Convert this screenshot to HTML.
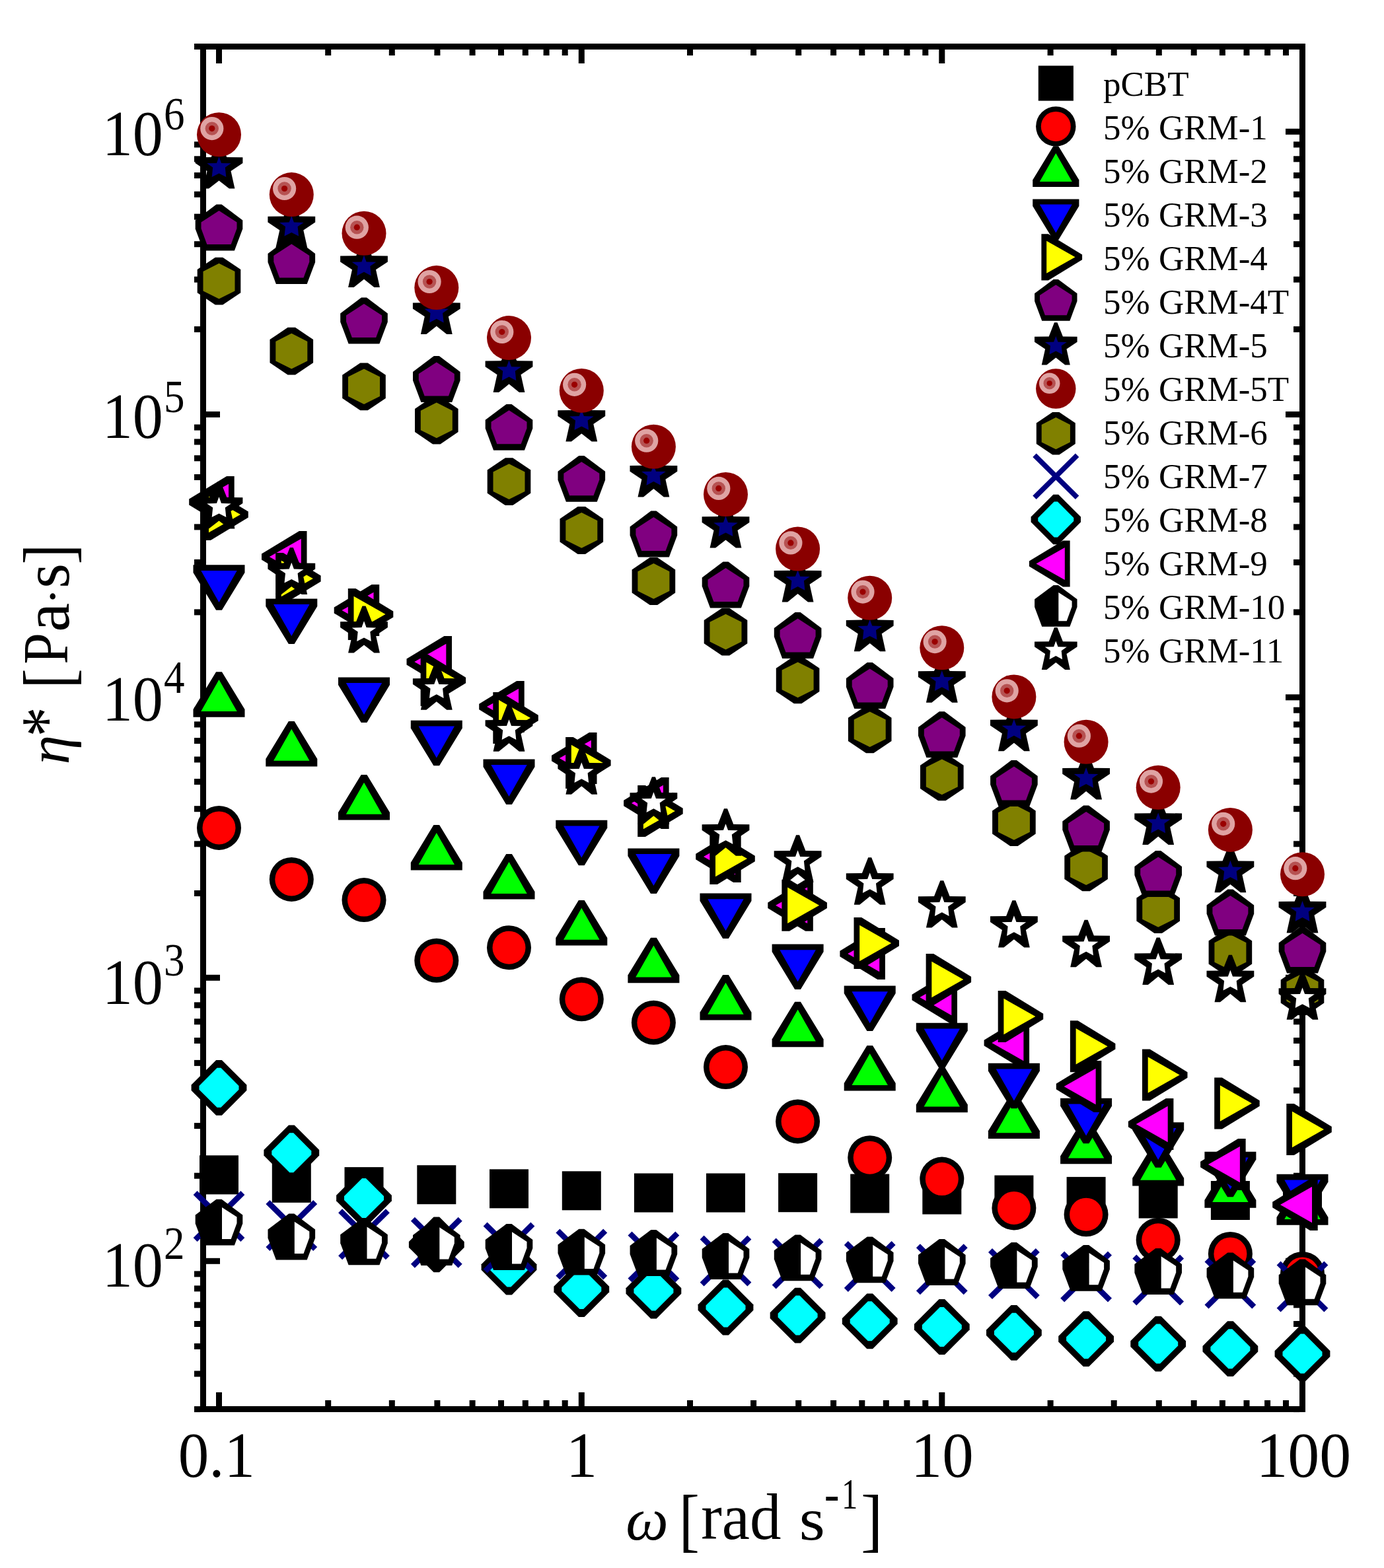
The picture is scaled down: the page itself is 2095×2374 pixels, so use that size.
<!DOCTYPE html>
<html><head><meta charset="utf-8"><title>Complex viscosity vs angular frequency</title>
<style>html,body{margin:0;padding:0;background:#fff;}svg{display:block;}</style></head>
<body>
<svg width="2095" height="2374" viewBox="0 0 2095 2374"><rect width="2095" height="2374" fill="#fff"/><rect x="303" y="66" width="9" height="2072" fill="#000"/><rect x="1967" y="66" width="9" height="2072" fill="#000"/><rect x="303" y="66" width="1673" height="9" fill="#000"/><rect x="303" y="2129" width="1673" height="9" fill="#000"/><rect x="327" y="2108" width="9" height="21" fill="#000"/><rect x="327" y="75" width="9" height="21" fill="#000"/><rect x="492.2" y="2120" width="9" height="9" fill="#000"/><rect x="492.2" y="75" width="9" height="9" fill="#000"/><rect x="588.8" y="2120" width="9" height="9" fill="#000"/><rect x="588.8" y="75" width="9" height="9" fill="#000"/><rect x="657.4" y="2120" width="9" height="9" fill="#000"/><rect x="657.4" y="75" width="9" height="9" fill="#000"/><rect x="710.6" y="2120" width="9" height="9" fill="#000"/><rect x="710.6" y="75" width="9" height="9" fill="#000"/><rect x="754" y="2120" width="9" height="9" fill="#000"/><rect x="754" y="75" width="9" height="9" fill="#000"/><rect x="790.8" y="2120" width="9" height="9" fill="#000"/><rect x="790.8" y="75" width="9" height="9" fill="#000"/><rect x="822.6" y="2120" width="9" height="9" fill="#000"/><rect x="822.6" y="75" width="9" height="9" fill="#000"/><rect x="850.7" y="2120" width="9" height="9" fill="#000"/><rect x="850.7" y="75" width="9" height="9" fill="#000"/><rect x="875.8" y="2108" width="9" height="21" fill="#000"/><rect x="875.8" y="75" width="9" height="21" fill="#000"/><rect x="1040" y="2120" width="9" height="9" fill="#000"/><rect x="1040" y="75" width="9" height="9" fill="#000"/><rect x="1136.1" y="2120" width="9" height="9" fill="#000"/><rect x="1136.1" y="75" width="9" height="9" fill="#000"/><rect x="1204.2" y="2120" width="9" height="9" fill="#000"/><rect x="1204.2" y="75" width="9" height="9" fill="#000"/><rect x="1257.1" y="2120" width="9" height="9" fill="#000"/><rect x="1257.1" y="75" width="9" height="9" fill="#000"/><rect x="1300.3" y="2120" width="9" height="9" fill="#000"/><rect x="1300.3" y="75" width="9" height="9" fill="#000"/><rect x="1336.8" y="2120" width="9" height="9" fill="#000"/><rect x="1336.8" y="75" width="9" height="9" fill="#000"/><rect x="1368.4" y="2120" width="9" height="9" fill="#000"/><rect x="1368.4" y="75" width="9" height="9" fill="#000"/><rect x="1396.3" y="2120" width="9" height="9" fill="#000"/><rect x="1396.3" y="75" width="9" height="9" fill="#000"/><rect x="1421.3" y="2108" width="9" height="21" fill="#000"/><rect x="1421.3" y="75" width="9" height="21" fill="#000"/><rect x="1585.6" y="2120" width="9" height="9" fill="#000"/><rect x="1585.6" y="75" width="9" height="9" fill="#000"/><rect x="1681.7" y="2120" width="9" height="9" fill="#000"/><rect x="1681.7" y="75" width="9" height="9" fill="#000"/><rect x="1749.8" y="2120" width="9" height="9" fill="#000"/><rect x="1749.8" y="75" width="9" height="9" fill="#000"/><rect x="1802.7" y="2120" width="9" height="9" fill="#000"/><rect x="1802.7" y="75" width="9" height="9" fill="#000"/><rect x="1845.9" y="2120" width="9" height="9" fill="#000"/><rect x="1845.9" y="75" width="9" height="9" fill="#000"/><rect x="1882.5" y="2120" width="9" height="9" fill="#000"/><rect x="1882.5" y="75" width="9" height="9" fill="#000"/><rect x="1914.1" y="2120" width="9" height="9" fill="#000"/><rect x="1914.1" y="75" width="9" height="9" fill="#000"/><rect x="1942" y="2120" width="9" height="9" fill="#000"/><rect x="1942" y="75" width="9" height="9" fill="#000"/><rect x="294" y="2129.1" width="9" height="9" fill="#000"/><rect x="1958" y="2129.1" width="9" height="9" fill="#000"/><rect x="294" y="2075.5" width="9" height="9" fill="#000"/><rect x="1958" y="2075.5" width="9" height="9" fill="#000"/><rect x="294" y="2033.9" width="9" height="9" fill="#000"/><rect x="1958" y="2033.9" width="9" height="9" fill="#000"/><rect x="294" y="2000" width="9" height="9" fill="#000"/><rect x="1958" y="2000" width="9" height="9" fill="#000"/><rect x="294" y="1971.3" width="9" height="9" fill="#000"/><rect x="1958" y="1971.3" width="9" height="9" fill="#000"/><rect x="294" y="1946.4" width="9" height="9" fill="#000"/><rect x="1958" y="1946.4" width="9" height="9" fill="#000"/><rect x="294" y="1924.4" width="9" height="9" fill="#000"/><rect x="1958" y="1924.4" width="9" height="9" fill="#000"/><rect x="312" y="1904.8" width="21" height="9" fill="#000"/><rect x="1946" y="1904.8" width="21" height="9" fill="#000"/><rect x="294" y="1775.7" width="9" height="9" fill="#000"/><rect x="1958" y="1775.7" width="9" height="9" fill="#000"/><rect x="294" y="1700.1" width="9" height="9" fill="#000"/><rect x="1958" y="1700.1" width="9" height="9" fill="#000"/><rect x="294" y="1646.5" width="9" height="9" fill="#000"/><rect x="1958" y="1646.5" width="9" height="9" fill="#000"/><rect x="294" y="1604.9" width="9" height="9" fill="#000"/><rect x="1958" y="1604.9" width="9" height="9" fill="#000"/><rect x="294" y="1571" width="9" height="9" fill="#000"/><rect x="1958" y="1571" width="9" height="9" fill="#000"/><rect x="294" y="1542.3" width="9" height="9" fill="#000"/><rect x="1958" y="1542.3" width="9" height="9" fill="#000"/><rect x="294" y="1517.4" width="9" height="9" fill="#000"/><rect x="1958" y="1517.4" width="9" height="9" fill="#000"/><rect x="294" y="1495.4" width="9" height="9" fill="#000"/><rect x="1958" y="1495.4" width="9" height="9" fill="#000"/><rect x="312" y="1475.8" width="21" height="9" fill="#000"/><rect x="1946" y="1475.8" width="21" height="9" fill="#000"/><rect x="294" y="1348" width="9" height="9" fill="#000"/><rect x="1958" y="1348" width="9" height="9" fill="#000"/><rect x="294" y="1273.3" width="9" height="9" fill="#000"/><rect x="1958" y="1273.3" width="9" height="9" fill="#000"/><rect x="294" y="1220.2" width="9" height="9" fill="#000"/><rect x="1958" y="1220.2" width="9" height="9" fill="#000"/><rect x="294" y="1179.1" width="9" height="9" fill="#000"/><rect x="1958" y="1179.1" width="9" height="9" fill="#000"/><rect x="294" y="1145.5" width="9" height="9" fill="#000"/><rect x="1958" y="1145.5" width="9" height="9" fill="#000"/><rect x="294" y="1117.1" width="9" height="9" fill="#000"/><rect x="1958" y="1117.1" width="9" height="9" fill="#000"/><rect x="294" y="1092.4" width="9" height="9" fill="#000"/><rect x="1958" y="1092.4" width="9" height="9" fill="#000"/><rect x="294" y="1070.7" width="9" height="9" fill="#000"/><rect x="1958" y="1070.7" width="9" height="9" fill="#000"/><rect x="312" y="1051.3" width="21" height="9" fill="#000"/><rect x="1946" y="1051.3" width="21" height="9" fill="#000"/><rect x="294" y="922.4" width="9" height="9" fill="#000"/><rect x="1958" y="922.4" width="9" height="9" fill="#000"/><rect x="294" y="846.9" width="9" height="9" fill="#000"/><rect x="1958" y="846.9" width="9" height="9" fill="#000"/><rect x="294" y="793.4" width="9" height="9" fill="#000"/><rect x="1958" y="793.4" width="9" height="9" fill="#000"/><rect x="294" y="751.9" width="9" height="9" fill="#000"/><rect x="1958" y="751.9" width="9" height="9" fill="#000"/><rect x="294" y="718" width="9" height="9" fill="#000"/><rect x="1958" y="718" width="9" height="9" fill="#000"/><rect x="294" y="689.3" width="9" height="9" fill="#000"/><rect x="1958" y="689.3" width="9" height="9" fill="#000"/><rect x="294" y="664.5" width="9" height="9" fill="#000"/><rect x="1958" y="664.5" width="9" height="9" fill="#000"/><rect x="294" y="642.6" width="9" height="9" fill="#000"/><rect x="1958" y="642.6" width="9" height="9" fill="#000"/><rect x="312" y="623" width="21" height="9" fill="#000"/><rect x="1946" y="623" width="21" height="9" fill="#000"/><rect x="294" y="494.1" width="9" height="9" fill="#000"/><rect x="1958" y="494.1" width="9" height="9" fill="#000"/><rect x="294" y="418.7" width="9" height="9" fill="#000"/><rect x="1958" y="418.7" width="9" height="9" fill="#000"/><rect x="294" y="365.2" width="9" height="9" fill="#000"/><rect x="1958" y="365.2" width="9" height="9" fill="#000"/><rect x="294" y="323.7" width="9" height="9" fill="#000"/><rect x="1958" y="323.7" width="9" height="9" fill="#000"/><rect x="294" y="289.8" width="9" height="9" fill="#000"/><rect x="1958" y="289.8" width="9" height="9" fill="#000"/><rect x="294" y="261.1" width="9" height="9" fill="#000"/><rect x="1958" y="261.1" width="9" height="9" fill="#000"/><rect x="294" y="236.3" width="9" height="9" fill="#000"/><rect x="1958" y="236.3" width="9" height="9" fill="#000"/><rect x="294" y="214.4" width="9" height="9" fill="#000"/><rect x="1958" y="214.4" width="9" height="9" fill="#000"/><rect x="312" y="194.8" width="21" height="9" fill="#000"/><rect x="1946" y="194.8" width="21" height="9" fill="#000"/><rect x="294" y="66" width="9" height="9" fill="#000"/><rect x="1958" y="66" width="9" height="9" fill="#000"/><text transform="translate(154.7,1947.8) scale(0.971,1.033)" style="font-family:'Liberation Serif','Times New Roman',serif;font-size:95px">10</text><text transform="translate(248,1905.6) scale(0.9,1.0)" style="font-family:'Liberation Serif','Times New Roman',serif;font-size:70px">2</text><text transform="translate(154.7,1519.6) scale(0.971,1.033)" style="font-family:'Liberation Serif','Times New Roman',serif;font-size:95px">10</text><text transform="translate(248,1477.3) scale(0.9,1.0)" style="font-family:'Liberation Serif','Times New Roman',serif;font-size:70px">3</text><text transform="translate(154.7,1091.4) scale(0.971,1.033)" style="font-family:'Liberation Serif','Times New Roman',serif;font-size:95px">10</text><text transform="translate(248,1049.1) scale(0.9,1.0)" style="font-family:'Liberation Serif','Times New Roman',serif;font-size:70px">4</text><text transform="translate(154.7,663.1) scale(0.971,1.033)" style="font-family:'Liberation Serif','Times New Roman',serif;font-size:95px">10</text><text transform="translate(248,624) scale(0.9,1.0)" style="font-family:'Liberation Serif','Times New Roman',serif;font-size:70px">5</text><text transform="translate(154.7,234.9) scale(0.971,1.033)" style="font-family:'Liberation Serif','Times New Roman',serif;font-size:95px">10</text><text transform="translate(248,196) scale(0.9,1.0)" style="font-family:'Liberation Serif','Times New Roman',serif;font-size:70px">6</text><text transform="translate(269.7,2235.5) scale(0.98,1.03)" style="font-family:'Liberation Serif','Times New Roman',serif;font-size:95px">0.1</text><text transform="translate(856.7,2235.5) scale(1.0,1.03)" style="font-family:'Liberation Serif','Times New Roman',serif;font-size:95px">1</text><text transform="translate(1378.8,2235.5) scale(1.0,1.03)" style="font-family:'Liberation Serif','Times New Roman',serif;font-size:95px">10</text><text transform="translate(1901.4,2235.5) scale(1.01,1.03)" style="font-family:'Liberation Serif','Times New Roman',serif;font-size:95px">100</text><text transform="translate(947.3,2331.1) scale(0.914,0.900)" style="font-family:'Liberation Serif','Times New Roman',serif;font-size:100px;font-style:italic">ω</text><text transform="translate(1027.7,2337.1) scale(0.935,1.054)" style="font-family:'Liberation Serif','Times New Roman',serif;font-size:100px">[</text><text transform="translate(1061.2,2329.5) scale(0.949,0.993)" style="font-family:'Liberation Serif','Times New Roman',serif;font-size:100px">rad</text><text transform="translate(1209.8,2331.1) scale(1.003,0.900)" style="font-family:'Liberation Serif','Times New Roman',serif;font-size:100px">s</text><text transform="translate(1247.7,2287.8) scale(0.685,0.786)" style="font-family:'Liberation Serif','Times New Roman',serif;font-size:100px">-</text><text transform="translate(1274.1,2284.3) scale(0.486,0.655)" style="font-family:'Liberation Serif','Times New Roman',serif;font-size:100px">1</text><text transform="translate(1303.0,2337.1) scale(1.005,1.054)" style="font-family:'Liberation Serif','Times New Roman',serif;font-size:100px">]</text><text transform="translate(104.2,1157.4) rotate(-90) scale(0.898,0.881)" style="font-family:'Liberation Serif','Times New Roman',serif;font-size:100px;font-style:italic">η</text><text transform="translate(105.8,1115.5) rotate(-90) scale(0.900,1.069)" style="font-family:'Liberation Serif','Times New Roman',serif;font-size:100px">*</text><text transform="translate(109.0,1042.4) rotate(-90) scale(0.909,1.054)" style="font-family:'Liberation Serif','Times New Roman',serif;font-size:100px">[</text><text transform="translate(101.8,1005.8) rotate(-90) scale(0.857,0.969)" style="font-family:'Liberation Serif','Times New Roman',serif;font-size:100px">P</text><text transform="translate(103.7,956.7) rotate(-90) scale(0.990,0.998)" style="font-family:'Liberation Serif','Times New Roman',serif;font-size:100px">a</text><text transform="translate(103.6,915.9) rotate(-90) scale(0.782,0.717)" style="font-family:'Liberation Serif','Times New Roman',serif;font-size:100px">·</text><text transform="translate(103.7,890.7) rotate(-90) scale(0.968,0.998)" style="font-family:'Liberation Serif','Times New Roman',serif;font-size:100px">s</text><text transform="translate(109.0,854.5) rotate(-90) scale(0.932,1.054)" style="font-family:'Liberation Serif','Times New Roman',serif;font-size:100px">]</text><rect x="302" y="1749.3" width="59" height="59" fill="#000"/><rect x="411.8" y="1761.8" width="59" height="59" fill="#000"/><rect x="521.5" y="1767.1" width="59" height="59" fill="#000"/><rect x="631.3" y="1764.2" width="59" height="59" fill="#000"/><rect x="741" y="1770.3" width="59" height="59" fill="#000"/><rect x="850.8" y="1773.3" width="59" height="59" fill="#000"/><rect x="959.9" y="1776.5" width="59" height="59" fill="#000"/><rect x="1069" y="1776.5" width="59" height="59" fill="#000"/><rect x="1178.1" y="1776.2" width="59" height="59" fill="#000"/><rect x="1287.2" y="1777.5" width="59" height="59" fill="#000"/><rect x="1396.3" y="1779.5" width="59" height="59" fill="#000"/><rect x="1505.4" y="1779.5" width="59" height="59" fill="#000"/><rect x="1614.6" y="1781.9" width="59" height="59" fill="#000"/><rect x="1723.7" y="1785.5" width="59" height="59" fill="#000"/><rect x="1832.9" y="1788" width="59" height="59" fill="#000"/><rect x="1942" y="1788.5" width="59" height="59" fill="#000"/><circle cx="331.5" cy="1253.4" r="33.5" fill="#000"/><circle cx="331.5" cy="1253.4" r="25" fill="#f00"/><circle cx="441.3" cy="1331.4" r="33.5" fill="#000"/><circle cx="441.3" cy="1331.4" r="25" fill="#f00"/><circle cx="551" cy="1362.6" r="33.5" fill="#000"/><circle cx="551" cy="1362.6" r="25" fill="#f00"/><circle cx="660.8" cy="1454.2" r="33.5" fill="#000"/><circle cx="660.8" cy="1454.2" r="25" fill="#f00"/><circle cx="770.5" cy="1434.7" r="33.5" fill="#000"/><circle cx="770.5" cy="1434.7" r="25" fill="#f00"/><circle cx="880.3" cy="1512.7" r="33.5" fill="#000"/><circle cx="880.3" cy="1512.7" r="25" fill="#f00"/><circle cx="989.4" cy="1548.2" r="33.5" fill="#000"/><circle cx="989.4" cy="1548.2" r="25" fill="#f00"/><circle cx="1098.5" cy="1615.6" r="33.5" fill="#000"/><circle cx="1098.5" cy="1615.6" r="25" fill="#f00"/><circle cx="1207.6" cy="1697.9" r="33.5" fill="#000"/><circle cx="1207.6" cy="1697.9" r="25" fill="#f00"/><circle cx="1316.7" cy="1752.7" r="33.5" fill="#000"/><circle cx="1316.7" cy="1752.7" r="25" fill="#f00"/><circle cx="1425.8" cy="1785.1" r="33.5" fill="#000"/><circle cx="1425.8" cy="1785.1" r="25" fill="#f00"/><circle cx="1534.9" cy="1828.9" r="33.5" fill="#000"/><circle cx="1534.9" cy="1828.9" r="25" fill="#f00"/><circle cx="1644.1" cy="1838.7" r="33.5" fill="#000"/><circle cx="1644.1" cy="1838.7" r="25" fill="#f00"/><circle cx="1753.2" cy="1877.3" r="33.5" fill="#000"/><circle cx="1753.2" cy="1877.3" r="25" fill="#f00"/><circle cx="1862.4" cy="1898.4" r="33.5" fill="#000"/><circle cx="1862.4" cy="1898.4" r="25" fill="#f00"/><circle cx="1971.5" cy="1928.4" r="33.5" fill="#000"/><circle cx="1971.5" cy="1928.4" r="25" fill="#f00"/><polygon points="327.1,1017.2 335.9,1017.2 370.5,1074.1 370.5,1085.7 292.5,1085.7 292.5,1074.1" fill="#000"/><polygon points="331.5,1029 358.7,1077 304.3,1077" fill="#00ff00"/><polygon points="436.9,1092 445.6,1092 480.3,1148.9 480.3,1160.5 402.3,1160.5 402.3,1148.9" fill="#000"/><polygon points="441.3,1103.8 468.5,1151.8 414.1,1151.8" fill="#00ff00"/><polygon points="546.7,1173 555.4,1173 590,1229.9 590,1241.5 512,1241.5 512,1229.9" fill="#000"/><polygon points="551,1184.8 578.2,1232.8 523.8,1232.8" fill="#00ff00"/><polygon points="656.4,1249.1 665.1,1249.1 699.8,1306 699.8,1317.6 621.8,1317.6 621.8,1306" fill="#000"/><polygon points="660.8,1260.9 688,1308.9 633.6,1308.9" fill="#00ff00"/><polygon points="766.2,1293.1 774.9,1293.1 809.5,1350 809.5,1361.6 731.5,1361.6 731.5,1350" fill="#000"/><polygon points="770.5,1304.9 797.7,1352.9 743.3,1352.9" fill="#00ff00"/><polygon points="875.9,1363 884.6,1363 919.3,1419.9 919.3,1431.5 841.3,1431.5 841.3,1419.9" fill="#000"/><polygon points="880.3,1374.8 907.5,1422.8 853.1,1422.8" fill="#00ff00"/><polygon points="985,1419.7 993.8,1419.7 1028.4,1476.6 1028.4,1488.2 950.4,1488.2 950.4,1476.6" fill="#000"/><polygon points="989.4,1431.5 1016.6,1479.5 962.2,1479.5" fill="#00ff00"/><polygon points="1094.2,1475.9 1102.8,1475.9 1137.5,1532.8 1137.5,1544.4 1059.5,1544.4 1059.5,1532.8" fill="#000"/><polygon points="1098.5,1487.7 1125.7,1535.7 1071.3,1535.7" fill="#00ff00"/><polygon points="1203.2,1516.7 1211.9,1516.7 1246.6,1573.6 1246.6,1585.2 1168.6,1585.2 1168.6,1573.6" fill="#000"/><polygon points="1207.6,1528.5 1234.8,1576.5 1180.4,1576.5" fill="#00ff00"/><polygon points="1312.4,1583.1 1321,1583.1 1355.7,1640 1355.7,1651.6 1277.7,1651.6 1277.7,1640" fill="#000"/><polygon points="1316.7,1594.9 1343.9,1642.9 1289.5,1642.9" fill="#00ff00"/><polygon points="1421.5,1615.7 1430.1,1615.7 1464.8,1672.6 1464.8,1684.2 1386.8,1684.2 1386.8,1672.6" fill="#000"/><polygon points="1425.8,1627.5 1453,1675.5 1398.6,1675.5" fill="#00ff00"/><polygon points="1530.6,1655.4 1539.3,1655.4 1573.9,1712.3 1573.9,1723.9 1495.9,1723.9 1495.9,1712.3" fill="#000"/><polygon points="1534.9,1667.2 1562.1,1715.2 1507.7,1715.2" fill="#00ff00"/><polygon points="1639.7,1693.7 1648.4,1693.7 1683.1,1750.6 1683.1,1762.2 1605.1,1762.2 1605.1,1750.6" fill="#000"/><polygon points="1644.1,1705.5 1671.3,1753.5 1616.9,1753.5" fill="#00ff00"/><polygon points="1748.9,1726.9 1757.6,1726.9 1792.2,1783.8 1792.2,1795.4 1714.2,1795.4 1714.2,1783.8" fill="#000"/><polygon points="1753.2,1738.7 1780.4,1786.7 1726,1786.7" fill="#00ff00"/><polygon points="1858,1760.2 1866.7,1760.2 1901.4,1817.1 1901.4,1828.7 1823.4,1828.7 1823.4,1817.1" fill="#000"/><polygon points="1862.4,1772 1889.6,1820 1835.2,1820" fill="#00ff00"/><polygon points="1967.2,1786.2 1975.8,1786.2 2010.5,1843.1 2010.5,1854.7 1932.5,1854.7 1932.5,1843.1" fill="#000"/><polygon points="1971.5,1798 1998.7,1846 1944.3,1846" fill="#00ff00"/><polygon points="335.9,923.8 327.1,923.8 292.5,866.9 292.5,855.3 370.5,855.3 370.5,866.9" fill="#000"/><polygon points="331.5,912 304.3,864 358.7,864" fill="#0000ff"/><polygon points="445.6,974.9 436.9,974.9 402.3,918 402.3,906.4 480.3,906.4 480.3,918" fill="#000"/><polygon points="441.3,963.1 414.1,915.1 468.5,915.1" fill="#0000ff"/><polygon points="555.4,1093.9 546.7,1093.9 512,1037 512,1025.4 590,1025.4 590,1037" fill="#000"/><polygon points="551,1082.1 523.8,1034.1 578.2,1034.1" fill="#0000ff"/><polygon points="665.1,1159.3 656.4,1159.3 621.8,1102.4 621.8,1090.8 699.8,1090.8 699.8,1102.4" fill="#000"/><polygon points="660.8,1147.5 633.6,1099.5 688,1099.5" fill="#0000ff"/><polygon points="774.9,1217.9 766.2,1217.9 731.5,1161 731.5,1149.4 809.5,1149.4 809.5,1161" fill="#000"/><polygon points="770.5,1206.1 743.3,1158.1 797.7,1158.1" fill="#0000ff"/><polygon points="884.6,1310.3 875.9,1310.3 841.3,1253.4 841.3,1241.8 919.3,1241.8 919.3,1253.4" fill="#000"/><polygon points="880.3,1298.5 853.1,1250.5 907.5,1250.5" fill="#0000ff"/><polygon points="993.8,1352.9 985,1352.9 950.4,1296 950.4,1284.4 1028.4,1284.4 1028.4,1296" fill="#000"/><polygon points="989.4,1341.1 962.2,1293.1 1016.6,1293.1" fill="#0000ff"/><polygon points="1102.8,1421 1094.2,1421 1059.5,1364.1 1059.5,1352.5 1137.5,1352.5 1137.5,1364.1" fill="#000"/><polygon points="1098.5,1409.2 1071.3,1361.2 1125.7,1361.2" fill="#0000ff"/><polygon points="1211.9,1498 1203.2,1498 1168.6,1441.1 1168.6,1429.5 1246.6,1429.5 1246.6,1441.1" fill="#000"/><polygon points="1207.6,1486.2 1180.4,1438.2 1234.8,1438.2" fill="#0000ff"/><polygon points="1321,1561 1312.4,1561 1277.7,1504.1 1277.7,1492.5 1355.7,1492.5 1355.7,1504.1" fill="#000"/><polygon points="1316.7,1549.2 1289.5,1501.2 1343.9,1501.2" fill="#0000ff"/><polygon points="1430.1,1617.3 1421.5,1617.3 1386.8,1560.4 1386.8,1548.8 1464.8,1548.8 1464.8,1560.4" fill="#000"/><polygon points="1425.8,1605.5 1398.6,1557.5 1453,1557.5" fill="#0000ff"/><polygon points="1539.3,1678.3 1530.6,1678.3 1495.9,1621.4 1495.9,1609.8 1573.9,1609.8 1573.9,1621.4" fill="#000"/><polygon points="1534.9,1666.5 1507.7,1618.5 1562.1,1618.5" fill="#0000ff"/><polygon points="1648.4,1731.3 1639.7,1731.3 1605.1,1674.4 1605.1,1662.8 1683.1,1662.8 1683.1,1674.4" fill="#000"/><polygon points="1644.1,1719.5 1616.9,1671.5 1671.3,1671.5" fill="#0000ff"/><polygon points="1757.6,1767.8 1748.9,1767.8 1714.2,1710.9 1714.2,1699.3 1792.2,1699.3 1792.2,1710.9" fill="#000"/><polygon points="1753.2,1756 1726,1708 1780.4,1708" fill="#0000ff"/><polygon points="1866.7,1812.3 1858,1812.3 1823.4,1755.4 1823.4,1743.8 1901.4,1743.8 1901.4,1755.4" fill="#000"/><polygon points="1862.4,1800.5 1835.2,1752.5 1889.6,1752.5" fill="#0000ff"/><polygon points="1975.8,1846.3 1967.2,1846.3 1932.5,1789.4 1932.5,1777.8 2010.5,1777.8 2010.5,1789.4" fill="#000"/><polygon points="1971.5,1834.5 1944.3,1786.5 1998.7,1786.5" fill="#0000ff"/><polygon points="286.2,764.4 286.2,755.6 343.1,721 354.7,721 354.7,799 343.1,799" fill="#000"/><polygon points="298,760 346,732.8 346,787.2" fill="#ff00ff"/><polygon points="396,847.4 396,838.6 452.9,804 464.5,804 464.5,882 452.9,882" fill="#000"/><polygon points="407.8,843 455.8,815.8 455.8,870.2" fill="#ff00ff"/><polygon points="505.7,928.4 505.7,919.6 562.6,885 574.2,885 574.2,963 562.6,963" fill="#000"/><polygon points="517.5,924 565.5,896.8 565.5,951.2" fill="#ff00ff"/><polygon points="615.5,1006.4 615.5,997.6 672.4,963 684,963 684,1041 672.4,1041" fill="#000"/><polygon points="627.3,1002 675.3,974.8 675.3,1029.2" fill="#ff00ff"/><polygon points="725.2,1074.3 725.2,1065.7 782.1,1031 793.7,1031 793.7,1109 782.1,1109" fill="#000"/><polygon points="737,1070 785,1042.8 785,1097.2" fill="#ff00ff"/><polygon points="835,1152.3 835,1143.7 891.9,1109 903.5,1109 903.5,1187 891.9,1187" fill="#000"/><polygon points="846.8,1148 894.8,1120.8 894.8,1175.2" fill="#ff00ff"/><polygon points="944.1,1220.3 944.1,1211.7 1001,1177 1012.6,1177 1012.6,1255 1001,1255" fill="#000"/><polygon points="955.9,1216 1003.9,1188.8 1003.9,1243.2" fill="#ff00ff"/><polygon points="1053.2,1301.3 1053.2,1292.7 1110.1,1258 1121.7,1258 1121.7,1336 1110.1,1336" fill="#000"/><polygon points="1065,1297 1113,1269.8 1113,1324.2" fill="#ff00ff"/><polygon points="1162.3,1375.1 1162.3,1366.5 1219.2,1331.8 1230.8,1331.8 1230.8,1409.8 1219.2,1409.8" fill="#000"/><polygon points="1174.1,1370.8 1222.1,1343.6 1222.1,1398" fill="#ff00ff"/><polygon points="1271.4,1448.3 1271.4,1439.7 1328.3,1405 1339.9,1405 1339.9,1483 1328.3,1483" fill="#000"/><polygon points="1283.2,1444 1331.2,1416.8 1331.2,1471.2" fill="#ff00ff"/><polygon points="1380.5,1514.3 1380.5,1505.7 1437.4,1471 1449,1471 1449,1549 1437.4,1549" fill="#000"/><polygon points="1392.3,1510 1440.3,1482.8 1440.3,1537.2" fill="#ff00ff"/><polygon points="1489.6,1583.3 1489.6,1574.7 1546.5,1540 1558.1,1540 1558.1,1618 1546.5,1618" fill="#000"/><polygon points="1501.4,1579 1549.4,1551.8 1549.4,1606.2" fill="#ff00ff"/><polygon points="1598.8,1649.3 1598.8,1640.7 1655.7,1606 1667.3,1606 1667.3,1684 1655.7,1684" fill="#000"/><polygon points="1610.6,1645 1658.6,1617.8 1658.6,1672.2" fill="#ff00ff"/><polygon points="1707.9,1706.3 1707.9,1697.7 1764.8,1663 1776.4,1663 1776.4,1741 1764.8,1741" fill="#000"/><polygon points="1719.7,1702 1767.7,1674.8 1767.7,1729.2" fill="#ff00ff"/><polygon points="1817.1,1767.3 1817.1,1758.7 1874,1724 1885.6,1724 1885.6,1802 1874,1802" fill="#000"/><polygon points="1828.9,1763 1876.9,1735.8 1876.9,1790.2" fill="#ff00ff"/><polygon points="1926.2,1828.3 1926.2,1819.7 1983.1,1785 1994.7,1785 1994.7,1863 1983.1,1863" fill="#000"/><polygon points="1938,1824 1986,1796.8 1986,1851.2" fill="#ff00ff"/><polygon points="375.8,774.6 375.8,783.4 318.9,818 307.3,818 307.3,740 318.9,740" fill="#000"/><polygon points="364,779 316,806.2 316,751.8" fill="#ffff00"/><polygon points="485.6,871.6 485.6,880.4 428.7,915 417.1,915 417.1,837 428.7,837" fill="#000"/><polygon points="473.8,876 425.8,903.2 425.8,848.8" fill="#ffff00"/><polygon points="595.3,925.6 595.3,934.4 538.4,969 526.8,969 526.8,891 538.4,891" fill="#000"/><polygon points="583.5,930 535.5,957.2 535.5,902.8" fill="#ffff00"/><polygon points="705.1,1025.7 705.1,1034.3 648.2,1069 636.6,1069 636.6,991 648.2,991" fill="#000"/><polygon points="693.3,1030 645.3,1057.2 645.3,1002.8" fill="#ffff00"/><polygon points="814.8,1082.7 814.8,1091.3 757.9,1126 746.3,1126 746.3,1048 757.9,1048" fill="#000"/><polygon points="803,1087 755,1114.2 755,1059.8" fill="#ffff00"/><polygon points="924.6,1150.7 924.6,1159.3 867.7,1194 856.1,1194 856.1,1116 867.7,1116" fill="#000"/><polygon points="912.8,1155 864.8,1182.2 864.8,1127.8" fill="#ffff00"/><polygon points="1033.7,1223.7 1033.7,1232.3 976.8,1267 965.2,1267 965.2,1189 976.8,1189" fill="#000"/><polygon points="1021.9,1228 973.9,1255.2 973.9,1200.8" fill="#ffff00"/><polygon points="1142.8,1295.7 1142.8,1304.3 1085.9,1339 1074.3,1339 1074.3,1261 1085.9,1261" fill="#000"/><polygon points="1131,1300 1083,1327.2 1083,1272.8" fill="#ffff00"/><polygon points="1251.9,1366.5 1251.9,1375.1 1195,1409.8 1183.4,1409.8 1183.4,1331.8 1195,1331.8" fill="#000"/><polygon points="1240.1,1370.8 1192.1,1398 1192.1,1343.6" fill="#ffff00"/><polygon points="1361,1423.7 1361,1432.3 1304.1,1467 1292.5,1467 1292.5,1389 1304.1,1389" fill="#000"/><polygon points="1349.2,1428 1301.2,1455.2 1301.2,1400.8" fill="#ffff00"/><polygon points="1470.1,1478.7 1470.1,1487.3 1413.2,1522 1401.6,1522 1401.6,1444 1413.2,1444" fill="#000"/><polygon points="1458.3,1483 1410.3,1510.2 1410.3,1455.8" fill="#ffff00"/><polygon points="1579.2,1534.7 1579.2,1543.3 1522.3,1578 1510.7,1578 1510.7,1500 1522.3,1500" fill="#000"/><polygon points="1567.4,1539 1519.4,1566.2 1519.4,1511.8" fill="#ffff00"/><polygon points="1688.4,1579.9 1688.4,1588.5 1631.5,1623.2 1619.9,1623.2 1619.9,1545.2 1631.5,1545.2" fill="#000"/><polygon points="1676.6,1584.2 1628.6,1611.4 1628.6,1557" fill="#ffff00"/><polygon points="1797.5,1623.2 1797.5,1631.8 1740.6,1666.5 1729,1666.5 1729,1588.5 1740.6,1588.5" fill="#000"/><polygon points="1785.7,1627.5 1737.7,1654.7 1737.7,1600.3" fill="#ffff00"/><polygon points="1906.7,1666.2 1906.7,1674.8 1849.8,1709.5 1838.2,1709.5 1838.2,1631.5 1849.8,1631.5" fill="#000"/><polygon points="1894.9,1670.5 1846.9,1697.7 1846.9,1643.3" fill="#ffff00"/><polygon points="2015.8,1705.7 2015.8,1714.3 1958.9,1749 1947.3,1749 1947.3,1671 1958.9,1671" fill="#000"/><polygon points="2004,1710 1956,1737.2 1956,1682.8" fill="#ffff00"/><polygon points="325.8,389.8 337.2,389.8 364.3,408.1 364.3,443.3 337.2,461.6 325.8,461.6 298.7,443.3 298.7,408.1" fill="#000"/><polygon points="331.5,398.8 355.5,410.9 355.5,440.5 331.5,452.5 307.5,440.5 307.5,410.9" fill="#808000"/><polygon points="435.6,495.8 447,495.8 474.1,514.1 474.1,549.3 447,567.6 435.6,567.6 408.5,549.3 408.5,514.1" fill="#000"/><polygon points="441.3,504.8 465.3,516.9 465.3,546.5 441.3,558.5 417.3,546.5 417.3,516.9" fill="#808000"/><polygon points="545.3,549.4 556.7,549.4 583.8,567.7 583.8,602.9 556.7,621.2 545.3,621.2 518.2,602.9 518.2,567.7" fill="#000"/><polygon points="551,558.4 575,570.5 575,600.1 551,612.1 527,600.1 527,570.5" fill="#808000"/><polygon points="655.1,600.6 666.5,600.6 693.6,618.9 693.6,654.1 666.5,672.4 655.1,672.4 628,654.1 628,618.9" fill="#000"/><polygon points="660.8,609.6 684.8,621.7 684.8,651.3 660.8,663.3 636.8,651.3 636.8,621.7" fill="#808000"/><polygon points="764.8,693.3 776.2,693.3 803.3,711.6 803.3,746.8 776.2,765.1 764.8,765.1 737.7,746.8 737.7,711.6" fill="#000"/><polygon points="770.5,702.3 794.5,714.4 794.5,744 770.5,756 746.5,744 746.5,714.4" fill="#808000"/><polygon points="874.6,767.1 886,767.1 913.1,785.4 913.1,820.6 886,838.9 874.6,838.9 847.5,820.6 847.5,785.4" fill="#000"/><polygon points="880.3,776.1 904.3,788.2 904.3,817.8 880.3,829.8 856.3,817.8 856.3,788.2" fill="#808000"/><polygon points="983.7,844.1 995.1,844.1 1022.2,862.4 1022.2,897.6 995.1,915.9 983.7,915.9 956.6,897.6 956.6,862.4" fill="#000"/><polygon points="989.4,853.1 1013.4,865.2 1013.4,894.8 989.4,906.8 965.4,894.8 965.4,865.2" fill="#808000"/><polygon points="1092.8,920.7 1104.2,920.7 1131.3,939 1131.3,974.2 1104.2,992.5 1092.8,992.5 1065.7,974.2 1065.7,939" fill="#000"/><polygon points="1098.5,929.7 1122.5,941.8 1122.5,971.4 1098.5,983.4 1074.5,971.4 1074.5,941.8" fill="#808000"/><polygon points="1201.9,993.5 1213.3,993.5 1240.4,1011.8 1240.4,1047 1213.3,1065.3 1201.9,1065.3 1174.8,1047 1174.8,1011.8" fill="#000"/><polygon points="1207.6,1002.5 1231.6,1014.6 1231.6,1044.2 1207.6,1056.2 1183.6,1044.2 1183.6,1014.6" fill="#808000"/><polygon points="1311,1068.4 1322.4,1068.4 1349.5,1086.7 1349.5,1121.9 1322.4,1140.2 1311,1140.2 1283.9,1121.9 1283.9,1086.7" fill="#000"/><polygon points="1316.7,1077.4 1340.7,1089.5 1340.7,1119.1 1316.7,1131.1 1292.7,1119.1 1292.7,1089.5" fill="#808000"/><polygon points="1420.1,1140.5 1431.5,1140.5 1458.6,1158.8 1458.6,1194 1431.5,1212.3 1420.1,1212.3 1393,1194 1393,1158.8" fill="#000"/><polygon points="1425.8,1149.5 1449.8,1161.6 1449.8,1191.2 1425.8,1203.2 1401.8,1191.2 1401.8,1161.6" fill="#808000"/><polygon points="1529.2,1209.1 1540.6,1209.1 1567.7,1227.4 1567.7,1262.6 1540.6,1280.9 1529.2,1280.9 1502.1,1262.6 1502.1,1227.4" fill="#000"/><polygon points="1534.9,1218.1 1558.9,1230.2 1558.9,1259.8 1534.9,1271.8 1510.9,1259.8 1510.9,1230.2" fill="#808000"/><polygon points="1638.4,1277.4 1649.8,1277.4 1676.9,1295.7 1676.9,1330.9 1649.8,1349.2 1638.4,1349.2 1611.3,1330.9 1611.3,1295.7" fill="#000"/><polygon points="1644.1,1286.4 1668.1,1298.5 1668.1,1328.1 1644.1,1340.1 1620.1,1328.1 1620.1,1298.5" fill="#808000"/><polygon points="1747.5,1341.1 1758.9,1341.1 1786,1359.4 1786,1394.6 1758.9,1412.9 1747.5,1412.9 1720.4,1394.6 1720.4,1359.4" fill="#000"/><polygon points="1753.2,1350.1 1777.2,1362.2 1777.2,1391.8 1753.2,1403.8 1729.2,1391.8 1729.2,1362.2" fill="#808000"/><polygon points="1856.7,1406.1 1868.1,1406.1 1895.2,1424.4 1895.2,1459.6 1868.1,1477.9 1856.7,1477.9 1829.6,1459.6 1829.6,1424.4" fill="#000"/><polygon points="1862.4,1415.1 1886.4,1427.2 1886.4,1456.8 1862.4,1468.8 1838.4,1456.8 1838.4,1427.2" fill="#808000"/><polygon points="1965.8,1465.1 1977.2,1465.1 2004.3,1483.4 2004.3,1518.6 1977.2,1536.9 1965.8,1536.9 1938.7,1518.6 1938.7,1483.4" fill="#000"/><polygon points="1971.5,1474.1 1995.5,1486.2 1995.5,1515.8 1971.5,1527.8 1947.5,1515.8 1947.5,1486.2" fill="#808000"/><polygon points="327.5,309.6 335.5,309.6 367.3,333.4 367.3,346.4 354.9,379.4 308.1,379.4 295.7,346.4 295.7,333.4" fill="#000"/><polygon points="331.5,318.9 358.5,336.4 358.5,345.9 349.7,369.9 313.3,369.9 304.5,345.9 304.5,336.4" fill="#800080"/><polygon points="437.3,360.1 445.3,360.1 477.1,383.9 477.1,396.9 464.7,429.9 417.9,429.9 405.5,396.9 405.5,383.9" fill="#000"/><polygon points="441.3,369.4 468.3,386.9 468.3,396.4 459.5,420.4 423.1,420.4 414.3,396.4 414.3,386.9" fill="#800080"/><polygon points="547,450.6 555,450.6 586.8,474.4 586.8,487.4 574.4,520.4 527.6,520.4 515.2,487.4 515.2,474.4" fill="#000"/><polygon points="551,459.9 578,477.4 578,486.9 569.2,510.9 532.8,510.9 524,486.9 524,477.4" fill="#800080"/><polygon points="656.8,539.1 664.8,539.1 696.6,562.9 696.6,575.9 684.2,608.9 637.4,608.9 625,575.9 625,562.9" fill="#000"/><polygon points="660.8,548.4 687.8,565.9 687.8,575.4 679,599.4 642.6,599.4 633.8,575.4 633.8,565.9" fill="#800080"/><polygon points="766.5,612 774.5,612 806.3,635.8 806.3,648.8 793.9,681.8 747.1,681.8 734.7,648.8 734.7,635.8" fill="#000"/><polygon points="770.5,621.3 797.5,638.8 797.5,648.3 788.7,672.3 752.3,672.3 743.5,648.3 743.5,638.8" fill="#800080"/><polygon points="876.3,690 884.3,690 916.1,713.8 916.1,726.8 903.7,759.8 856.9,759.8 844.5,726.8 844.5,713.8" fill="#000"/><polygon points="880.3,699.3 907.3,716.8 907.3,726.3 898.5,750.3 862.1,750.3 853.3,726.3 853.3,716.8" fill="#800080"/><polygon points="985.4,773.6 993.4,773.6 1025.2,797.4 1025.2,810.4 1012.8,843.4 966,843.4 953.6,810.4 953.6,797.4" fill="#000"/><polygon points="989.4,782.9 1016.4,800.4 1016.4,809.9 1007.6,833.9 971.2,833.9 962.4,809.9 962.4,800.4" fill="#800080"/><polygon points="1094.5,850.6 1102.5,850.6 1134.3,874.4 1134.3,887.4 1121.9,920.4 1075.1,920.4 1062.7,887.4 1062.7,874.4" fill="#000"/><polygon points="1098.5,859.9 1125.5,877.4 1125.5,886.9 1116.7,910.9 1080.3,910.9 1071.5,886.9 1071.5,877.4" fill="#800080"/><polygon points="1203.6,927.1 1211.6,927.1 1243.4,950.9 1243.4,963.9 1231,996.9 1184.2,996.9 1171.8,963.9 1171.8,950.9" fill="#000"/><polygon points="1207.6,936.4 1234.6,953.9 1234.6,963.4 1225.8,987.4 1189.4,987.4 1180.6,963.4 1180.6,953.9" fill="#800080"/><polygon points="1312.7,1003.1 1320.7,1003.1 1352.5,1026.9 1352.5,1039.9 1340.1,1072.9 1293.3,1072.9 1280.9,1039.9 1280.9,1026.9" fill="#000"/><polygon points="1316.7,1012.4 1343.7,1029.9 1343.7,1039.4 1334.9,1063.4 1298.5,1063.4 1289.7,1039.4 1289.7,1029.9" fill="#800080"/><polygon points="1421.8,1077.3 1429.8,1077.3 1461.6,1101.1 1461.6,1114.1 1449.2,1147.1 1402.4,1147.1 1390,1114.1 1390,1101.1" fill="#000"/><polygon points="1425.8,1086.6 1452.8,1104.1 1452.8,1113.6 1444,1137.6 1407.6,1137.6 1398.8,1113.6 1398.8,1104.1" fill="#800080"/><polygon points="1530.9,1151.1 1538.9,1151.1 1570.7,1174.9 1570.7,1187.9 1558.3,1220.9 1511.5,1220.9 1499.1,1187.9 1499.1,1174.9" fill="#000"/><polygon points="1534.9,1160.4 1561.9,1177.9 1561.9,1187.4 1553.1,1211.4 1516.7,1211.4 1507.9,1187.4 1507.9,1177.9" fill="#800080"/><polygon points="1640.1,1219.6 1648.1,1219.6 1679.9,1243.4 1679.9,1256.4 1667.5,1289.4 1620.7,1289.4 1608.3,1256.4 1608.3,1243.4" fill="#000"/><polygon points="1644.1,1228.9 1671.1,1246.4 1671.1,1255.9 1662.3,1279.9 1625.9,1279.9 1617.1,1255.9 1617.1,1246.4" fill="#800080"/><polygon points="1749.2,1288.1 1757.2,1288.1 1789,1311.9 1789,1324.9 1776.6,1357.9 1729.8,1357.9 1717.4,1324.9 1717.4,1311.9" fill="#000"/><polygon points="1753.2,1297.4 1780.2,1314.9 1780.2,1324.4 1771.4,1348.4 1735,1348.4 1726.2,1324.4 1726.2,1314.9" fill="#800080"/><polygon points="1858.4,1346.6 1866.4,1346.6 1898.2,1370.4 1898.2,1383.4 1885.8,1416.4 1839,1416.4 1826.6,1383.4 1826.6,1370.4" fill="#000"/><polygon points="1862.4,1355.9 1889.4,1373.4 1889.4,1382.9 1880.6,1406.9 1844.2,1406.9 1835.4,1382.9 1835.4,1373.4" fill="#800080"/><polygon points="1967.5,1403.6 1975.5,1403.6 2007.3,1427.4 2007.3,1440.4 1994.9,1473.4 1948.1,1473.4 1935.7,1440.4 1935.7,1427.4" fill="#000"/><polygon points="1971.5,1412.9 1998.5,1430.4 1998.5,1439.9 1989.7,1463.9 1953.3,1463.9 1944.5,1439.9 1944.5,1430.4" fill="#800080"/><polygon points="329,214.3 334,214.3 343.3,237.9 367.4,238.2 367.4,247.1 349.5,258.9 355.4,285.6 346.9,285.6 331.5,273.4 316.1,285.6 307.6,285.6 313.5,258.9 295.6,247.1 295.6,238.2 319.7,237.9" fill="#000"/><polygon points="331.5,237.2 335.1,247.1 349.8,247.3 340.8,253.6 342.3,268.1 331.5,262.4 320.7,268.1 322.2,253.6 313.2,247.3 327.9,247.1" fill="#000080"/><polygon points="438.8,303.9 443.8,303.9 453.1,327.4 477.2,327.8 477.2,336.6 459.3,348.4 465.2,375.1 456.7,375.1 441.3,362.9 425.9,375.1 417.4,375.1 423.3,348.4 405.4,336.6 405.4,327.8 429.5,327.4" fill="#000"/><polygon points="441.3,326.8 444.9,336.6 459.6,336.9 450.6,343.1 452.1,357.6 441.3,351.9 430.5,357.6 432,343.1 423,336.9 437.7,336.6" fill="#000080"/><polygon points="548.5,363.8 553.5,363.8 562.8,387.3 586.9,387.6 586.9,396.4 569,408.3 574.9,435 566.4,435 551,422.8 535.6,435 527.1,435 533,408.3 515.1,396.4 515.1,387.6 539.2,387.3" fill="#000"/><polygon points="551,386.6 554.6,396.4 569.3,396.8 560.3,402.9 561.8,417.4 551,411.8 540.2,417.4 541.7,402.9 532.7,396.8 547.4,396.4" fill="#000080"/><polygon points="658.3,434.8 663.3,434.8 672.6,458.3 696.7,458.6 696.7,467.4 678.8,479.3 684.7,506 676.2,506 660.8,493.8 645.4,506 636.9,506 642.8,479.3 624.9,467.4 624.9,458.6 649,458.3" fill="#000"/><polygon points="660.8,457.6 664.4,467.4 679.1,467.8 670.1,473.9 671.6,488.4 660.8,482.8 650,488.4 651.5,473.9 642.5,467.8 657.2,467.4" fill="#000080"/><polygon points="768,522.6 773,522.6 782.3,546.2 806.4,546.5 806.4,555.3 788.5,567.2 794.4,593.9 785.9,593.9 770.5,581.6 755.1,593.9 746.6,593.9 752.5,567.2 734.6,555.3 734.6,546.5 758.7,546.2" fill="#000"/><polygon points="770.5,545.5 774.1,555.3 788.8,555.6 779.8,561.8 781.3,576.3 770.5,570.6 759.7,576.3 761.2,561.8 752.2,555.6 766.9,555.3" fill="#000080"/><polygon points="877.8,597.4 882.8,597.4 892.1,621 916.2,621.2 916.2,630 898.3,642 904.2,668.6 895.7,668.6 880.3,656.4 864.9,668.6 856.4,668.6 862.3,642 844.4,630 844.4,621.2 868.5,621" fill="#000"/><polygon points="880.3,620.2 883.9,630 898.6,630.4 889.6,636.5 891.1,651 880.3,645.4 869.5,651 871,636.5 862,630.4 876.7,630" fill="#000080"/><polygon points="986.9,681.1 991.9,681.1 1001.2,704.7 1025.3,705 1025.3,713.8 1007.4,725.7 1013.3,752.4 1004.8,752.4 989.4,740.1 974,752.4 965.5,752.4 971.4,725.7 953.5,713.8 953.5,705 977.6,704.7" fill="#000"/><polygon points="989.4,704 993,713.8 1007.7,714.1 998.7,720.2 1000.2,734.8 989.4,729.1 978.6,734.8 980.1,720.2 971.1,714.1 985.8,713.8" fill="#000080"/><polygon points="1096,758.4 1101,758.4 1110.3,782 1134.4,782.2 1134.4,791 1116.5,803 1122.4,829.6 1113.9,829.6 1098.5,817.4 1083.1,829.6 1074.6,829.6 1080.5,803 1062.6,791 1062.6,782.2 1086.7,782" fill="#000"/><polygon points="1098.5,781.2 1102.1,791 1116.8,791.4 1107.8,797.5 1109.3,812 1098.5,806.4 1087.7,812 1089.2,797.5 1080.2,791.4 1094.9,791" fill="#000080"/><polygon points="1205.1,840.1 1210.1,840.1 1219.4,863.8 1243.5,864 1243.5,872.8 1225.6,884.8 1231.5,911.4 1223,911.4 1207.6,899.1 1192.2,911.4 1183.7,911.4 1189.6,884.8 1171.7,872.8 1171.7,864 1195.8,863.8" fill="#000"/><polygon points="1207.6,863 1211.2,872.8 1225.9,873.1 1216.9,879.3 1218.4,893.8 1207.6,888.1 1196.8,893.8 1198.3,879.3 1189.3,873.1 1204,872.8" fill="#000080"/><polygon points="1314.2,915 1319.2,915 1328.5,938.6 1352.6,938.9 1352.6,947.6 1334.7,959.6 1340.6,986.2 1332.1,986.2 1316.7,974 1301.3,986.2 1292.8,986.2 1298.7,959.6 1280.8,947.6 1280.8,938.9 1304.9,938.6" fill="#000"/><polygon points="1316.7,937.9 1320.3,947.6 1335,948 1326,954.1 1327.5,968.6 1316.7,963 1305.9,968.6 1307.4,954.1 1298.4,948 1313.1,947.6" fill="#000080"/><polygon points="1423.3,992.4 1428.3,992.4 1437.6,1016 1461.7,1016.2 1461.7,1025 1443.8,1037 1449.7,1063.7 1441.2,1063.7 1425.8,1051.3 1410.4,1063.7 1401.9,1063.7 1407.8,1037 1389.9,1025 1389.9,1016.2 1414,1016" fill="#000"/><polygon points="1425.8,1015.2 1429.4,1025 1444.1,1025.3 1435.1,1031.5 1436.6,1046 1425.8,1040.3 1415,1046 1416.5,1031.5 1407.5,1025.3 1422.2,1025" fill="#000080"/><polygon points="1532.4,1065.8 1537.4,1065.8 1546.7,1089.5 1570.8,1089.8 1570.8,1098.5 1552.9,1110.5 1558.8,1137.2 1550.3,1137.2 1534.9,1124.8 1519.5,1137.2 1511,1137.2 1516.9,1110.5 1499,1098.5 1499,1089.8 1523.1,1089.5" fill="#000"/><polygon points="1534.9,1088.8 1538.5,1098.5 1553.2,1098.8 1544.2,1105 1545.7,1119.5 1534.9,1113.8 1524.1,1119.5 1525.6,1105 1516.6,1098.8 1531.3,1098.5" fill="#000080"/><polygon points="1641.6,1139 1646.6,1139 1655.9,1162.7 1680,1163 1680,1171.8 1662.1,1183.7 1668,1210.4 1659.5,1210.4 1644.1,1198 1628.7,1210.4 1620.2,1210.4 1626.1,1183.7 1608.2,1171.8 1608.2,1163 1632.3,1162.7" fill="#000"/><polygon points="1644.1,1162 1647.7,1171.8 1662.4,1172 1653.4,1178.2 1654.9,1192.8 1644.1,1187 1633.3,1192.8 1634.8,1178.2 1625.8,1172 1640.5,1171.8" fill="#000080"/><polygon points="1750.7,1207.6 1755.7,1207.6 1765,1231.2 1789.1,1231.5 1789.1,1240.3 1771.2,1252.2 1777.1,1279 1768.6,1279 1753.2,1266.6 1737.8,1279 1729.3,1279 1735.2,1252.2 1717.3,1240.3 1717.3,1231.5 1741.4,1231.2" fill="#000"/><polygon points="1753.2,1230.5 1756.8,1240.3 1771.5,1240.6 1762.5,1246.8 1764,1261.3 1753.2,1255.6 1742.4,1261.3 1743.9,1246.8 1734.9,1240.6 1749.6,1240.3" fill="#000080"/><polygon points="1859.9,1279.9 1864.9,1279.9 1874.2,1303.5 1898.3,1303.8 1898.3,1312.6 1880.4,1324.5 1886.3,1351.2 1877.8,1351.2 1862.4,1338.9 1847,1351.2 1838.5,1351.2 1844.4,1324.5 1826.5,1312.6 1826.5,1303.8 1850.6,1303.5" fill="#000"/><polygon points="1862.4,1302.8 1866,1312.6 1880.7,1312.9 1871.7,1319.1 1873.2,1333.6 1862.4,1327.9 1851.6,1333.6 1853.1,1319.1 1844.1,1312.9 1858.8,1312.6" fill="#000080"/><polygon points="1969,1341 1974,1341 1983.3,1364.7 2007.4,1365 2007.4,1373.8 1989.5,1385.7 1995.4,1412.4 1986.9,1412.4 1971.5,1400 1956.1,1412.4 1947.6,1412.4 1953.5,1385.7 1935.6,1373.8 1935.6,1365 1959.7,1364.7" fill="#000"/><polygon points="1971.5,1364 1975.1,1373.8 1989.8,1374 1980.8,1380.2 1982.3,1394.8 1971.5,1389 1960.7,1394.8 1962.2,1380.2 1953.2,1374 1967.9,1373.8" fill="#000080"/><circle cx="331.5" cy="203.7" r="33.5" fill="#8a0000"/><circle cx="320.8" cy="194.6" r="17.6" fill="#dfa3a3"/><circle cx="320.8" cy="194.6" r="10.2" fill="#b65252"/><circle cx="320.8" cy="194.6" r="4.6" fill="#9a0000"/><circle cx="441.3" cy="294.6" r="33.5" fill="#8a0000"/><circle cx="430.6" cy="285.5" r="17.6" fill="#dfa3a3"/><circle cx="430.6" cy="285.5" r="10.2" fill="#b65252"/><circle cx="430.6" cy="285.5" r="4.6" fill="#9a0000"/><circle cx="551" cy="353.3" r="33.5" fill="#8a0000"/><circle cx="540.3" cy="344.2" r="17.6" fill="#dfa3a3"/><circle cx="540.3" cy="344.2" r="10.2" fill="#b65252"/><circle cx="540.3" cy="344.2" r="4.6" fill="#9a0000"/><circle cx="660.8" cy="435.6" r="33.5" fill="#8a0000"/><circle cx="650.1" cy="426.5" r="17.6" fill="#dfa3a3"/><circle cx="650.1" cy="426.5" r="10.2" fill="#b65252"/><circle cx="650.1" cy="426.5" r="4.6" fill="#9a0000"/><circle cx="770.5" cy="511.6" r="33.5" fill="#8a0000"/><circle cx="759.8" cy="502.5" r="17.6" fill="#dfa3a3"/><circle cx="759.8" cy="502.5" r="10.2" fill="#b65252"/><circle cx="759.8" cy="502.5" r="4.6" fill="#9a0000"/><circle cx="880.3" cy="591.4" r="33.5" fill="#8a0000"/><circle cx="869.6" cy="582.3" r="17.6" fill="#dfa3a3"/><circle cx="869.6" cy="582.3" r="10.2" fill="#b65252"/><circle cx="869.6" cy="582.3" r="4.6" fill="#9a0000"/><circle cx="989.4" cy="676.3" r="33.5" fill="#8a0000"/><circle cx="978.7" cy="667.2" r="17.6" fill="#dfa3a3"/><circle cx="978.7" cy="667.2" r="10.2" fill="#b65252"/><circle cx="978.7" cy="667.2" r="4.6" fill="#9a0000"/><circle cx="1098.5" cy="748.5" r="33.5" fill="#8a0000"/><circle cx="1087.8" cy="739.4" r="17.6" fill="#dfa3a3"/><circle cx="1087.8" cy="739.4" r="10.2" fill="#b65252"/><circle cx="1087.8" cy="739.4" r="4.6" fill="#9a0000"/><circle cx="1207.6" cy="831" r="33.5" fill="#8a0000"/><circle cx="1196.9" cy="821.9" r="17.6" fill="#dfa3a3"/><circle cx="1196.9" cy="821.9" r="10.2" fill="#b65252"/><circle cx="1196.9" cy="821.9" r="4.6" fill="#9a0000"/><circle cx="1316.7" cy="905.2" r="33.5" fill="#8a0000"/><circle cx="1306" cy="896.1" r="17.6" fill="#dfa3a3"/><circle cx="1306" cy="896.1" r="10.2" fill="#b65252"/><circle cx="1306" cy="896.1" r="4.6" fill="#9a0000"/><circle cx="1425.8" cy="980.7" r="33.5" fill="#8a0000"/><circle cx="1415.1" cy="971.6" r="17.6" fill="#dfa3a3"/><circle cx="1415.1" cy="971.6" r="10.2" fill="#b65252"/><circle cx="1415.1" cy="971.6" r="4.6" fill="#9a0000"/><circle cx="1534.9" cy="1054.9" r="33.5" fill="#8a0000"/><circle cx="1524.2" cy="1045.8" r="17.6" fill="#dfa3a3"/><circle cx="1524.2" cy="1045.8" r="10.2" fill="#b65252"/><circle cx="1524.2" cy="1045.8" r="4.6" fill="#9a0000"/><circle cx="1644.1" cy="1123.3" r="33.5" fill="#8a0000"/><circle cx="1633.4" cy="1114.2" r="17.6" fill="#dfa3a3"/><circle cx="1633.4" cy="1114.2" r="10.2" fill="#b65252"/><circle cx="1633.4" cy="1114.2" r="4.6" fill="#9a0000"/><circle cx="1753.2" cy="1192.2" r="33.5" fill="#8a0000"/><circle cx="1742.5" cy="1183.1" r="17.6" fill="#dfa3a3"/><circle cx="1742.5" cy="1183.1" r="10.2" fill="#b65252"/><circle cx="1742.5" cy="1183.1" r="4.6" fill="#9a0000"/><circle cx="1862.4" cy="1256.4" r="33.5" fill="#8a0000"/><circle cx="1851.7" cy="1247.3" r="17.6" fill="#dfa3a3"/><circle cx="1851.7" cy="1247.3" r="10.2" fill="#b65252"/><circle cx="1851.7" cy="1247.3" r="4.6" fill="#9a0000"/><circle cx="1971.5" cy="1323.8" r="33.5" fill="#8a0000"/><circle cx="1960.8" cy="1314.7" r="17.6" fill="#dfa3a3"/><circle cx="1960.8" cy="1314.7" r="10.2" fill="#b65252"/><circle cx="1960.8" cy="1314.7" r="4.6" fill="#9a0000"/><polygon points="327.2,1604.9 335.8,1604.9 373.4,1642.5 373.4,1651.1 335.8,1688.7 327.2,1688.7 289.6,1651.1 289.6,1642.5" fill="#000"/><polygon points="328.6,1616.8 334.4,1616.8 361.5,1643.9 361.5,1649.7 334.4,1676.8 328.6,1676.8 301.5,1649.7 301.5,1643.9" fill="#00ffff"/><polygon points="437,1703.4 445.6,1703.4 483.2,1741 483.2,1749.6 445.6,1787.2 437,1787.2 399.4,1749.6 399.4,1741" fill="#000"/><polygon points="438.4,1715.3 444.2,1715.3 471.3,1742.4 471.3,1748.2 444.2,1775.3 438.4,1775.3 411.3,1748.2 411.3,1742.4" fill="#00ffff"/><polygon points="546.7,1772.1 555.3,1772.1 592.9,1809.7 592.9,1818.3 555.3,1855.9 546.7,1855.9 509.1,1818.3 509.1,1809.7" fill="#000"/><polygon points="548.1,1784 553.9,1784 581,1811.1 581,1816.9 553.9,1844 548.1,1844 521,1816.9 521,1811.1" fill="#00ffff"/><polygon points="656.5,1842.5 665.1,1842.5 702.7,1880.1 702.7,1888.7 665.1,1926.3 656.5,1926.3 618.9,1888.7 618.9,1880.1" fill="#000"/><polygon points="657.9,1854.4 663.7,1854.4 690.8,1881.5 690.8,1887.3 663.7,1914.4 657.9,1914.4 630.8,1887.3 630.8,1881.5" fill="#00ffff"/><polygon points="766.2,1876.6 774.8,1876.6 812.4,1914.2 812.4,1922.8 774.8,1960.4 766.2,1960.4 728.6,1922.8 728.6,1914.2" fill="#000"/><polygon points="767.6,1888.5 773.4,1888.5 800.5,1915.6 800.5,1921.4 773.4,1948.5 767.6,1948.5 740.5,1921.4 740.5,1915.6" fill="#00ffff"/><polygon points="876,1910.1 884.6,1910.1 922.2,1947.7 922.2,1956.3 884.6,1993.9 876,1993.9 838.4,1956.3 838.4,1947.7" fill="#000"/><polygon points="877.4,1922 883.2,1922 910.3,1949.1 910.3,1954.9 883.2,1982 877.4,1982 850.3,1954.9 850.3,1949.1" fill="#00ffff"/><polygon points="985.1,1912.6 993.7,1912.6 1031.3,1950.2 1031.3,1958.8 993.7,1996.4 985.1,1996.4 947.5,1958.8 947.5,1950.2" fill="#000"/><polygon points="986.5,1924.5 992.3,1924.5 1019.4,1951.6 1019.4,1957.4 992.3,1984.5 986.5,1984.5 959.4,1957.4 959.4,1951.6" fill="#00ffff"/><polygon points="1094.2,1937.6 1102.8,1937.6 1140.4,1975.2 1140.4,1983.8 1102.8,2021.4 1094.2,2021.4 1056.6,1983.8 1056.6,1975.2" fill="#000"/><polygon points="1095.6,1949.5 1101.4,1949.5 1128.5,1976.6 1128.5,1982.4 1101.4,2009.5 1095.6,2009.5 1068.5,1982.4 1068.5,1976.6" fill="#00ffff"/><polygon points="1203.3,1949.7 1211.9,1949.7 1249.5,1987.3 1249.5,1995.9 1211.9,2033.5 1203.3,2033.5 1165.7,1995.9 1165.7,1987.3" fill="#000"/><polygon points="1204.7,1961.6 1210.5,1961.6 1237.6,1988.7 1237.6,1994.5 1210.5,2021.6 1204.7,2021.6 1177.6,1994.5 1177.6,1988.7" fill="#00ffff"/><polygon points="1312.4,1958.4 1321,1958.4 1358.6,1996 1358.6,2004.6 1321,2042.2 1312.4,2042.2 1274.8,2004.6 1274.8,1996" fill="#000"/><polygon points="1313.8,1970.3 1319.6,1970.3 1346.7,1997.4 1346.7,2003.2 1319.6,2030.3 1313.8,2030.3 1286.7,2003.2 1286.7,1997.4" fill="#00ffff"/><polygon points="1421.5,1967.1 1430.1,1967.1 1467.7,2004.7 1467.7,2013.3 1430.1,2050.9 1421.5,2050.9 1383.9,2013.3 1383.9,2004.7" fill="#000"/><polygon points="1422.9,1979 1428.7,1979 1455.8,2006.1 1455.8,2011.9 1428.7,2039 1422.9,2039 1395.8,2011.9 1395.8,2006.1" fill="#00ffff"/><polygon points="1530.6,1975.9 1539.2,1975.9 1576.8,2013.5 1576.8,2022.1 1539.2,2059.7 1530.6,2059.7 1493,2022.1 1493,2013.5" fill="#000"/><polygon points="1532,1987.8 1537.8,1987.8 1564.9,2014.9 1564.9,2020.7 1537.8,2047.8 1532,2047.8 1504.9,2020.7 1504.9,2014.9" fill="#00ffff"/><polygon points="1639.8,1985.3 1648.4,1985.3 1686,2022.9 1686,2031.5 1648.4,2069.1 1639.8,2069.1 1602.2,2031.5 1602.2,2022.9" fill="#000"/><polygon points="1641.2,1997.2 1647,1997.2 1674.1,2024.3 1674.1,2030.1 1647,2057.2 1641.2,2057.2 1614.1,2030.1 1614.1,2024.3" fill="#00ffff"/><polygon points="1748.9,1992.7 1757.5,1992.7 1795.1,2030.3 1795.1,2038.9 1757.5,2076.5 1748.9,2076.5 1711.3,2038.9 1711.3,2030.3" fill="#000"/><polygon points="1750.3,2004.6 1756.1,2004.6 1783.2,2031.7 1783.2,2037.5 1756.1,2064.6 1750.3,2064.6 1723.2,2037.5 1723.2,2031.7" fill="#00ffff"/><polygon points="1858.1,2000.3 1866.7,2000.3 1904.3,2037.9 1904.3,2046.5 1866.7,2084.1 1858.1,2084.1 1820.5,2046.5 1820.5,2037.9" fill="#000"/><polygon points="1859.5,2012.2 1865.3,2012.2 1892.4,2039.3 1892.4,2045.1 1865.3,2072.2 1859.5,2072.2 1832.4,2045.1 1832.4,2039.3" fill="#00ffff"/><polygon points="1967.2,2007.7 1975.8,2007.7 2013.4,2045.3 2013.4,2053.9 1975.8,2091.5 1967.2,2091.5 1929.6,2053.9 1929.6,2045.3" fill="#000"/><polygon points="1968.6,2019.6 1974.4,2019.6 2001.5,2046.7 2001.5,2052.5 1974.4,2079.6 1968.6,2079.6 1941.5,2052.5 1941.5,2046.7" fill="#00ffff"/><line x1="295.6" y1="1805.9" x2="367.4" y2="1876.9" stroke="#000080" stroke-width="8.5"/><line x1="367.4" y1="1805.9" x2="295.6" y2="1876.9" stroke="#000080" stroke-width="8.5"/><line x1="405.4" y1="1820.1" x2="477.2" y2="1891.1" stroke="#000080" stroke-width="8.5"/><line x1="477.2" y1="1820.1" x2="405.4" y2="1891.1" stroke="#000080" stroke-width="8.5"/><line x1="515.1" y1="1833.2" x2="586.9" y2="1904.2" stroke="#000080" stroke-width="8.5"/><line x1="586.9" y1="1833.2" x2="515.1" y2="1904.2" stroke="#000080" stroke-width="8.5"/><line x1="624.9" y1="1845.8" x2="696.7" y2="1916.8" stroke="#000080" stroke-width="8.5"/><line x1="696.7" y1="1845.8" x2="624.9" y2="1916.8" stroke="#000080" stroke-width="8.5"/><line x1="734.6" y1="1853.5" x2="806.4" y2="1924.5" stroke="#000080" stroke-width="8.5"/><line x1="806.4" y1="1853.5" x2="734.6" y2="1924.5" stroke="#000080" stroke-width="8.5"/><line x1="844.4" y1="1863.5" x2="916.2" y2="1934.5" stroke="#000080" stroke-width="8.5"/><line x1="916.2" y1="1863.5" x2="844.4" y2="1934.5" stroke="#000080" stroke-width="8.5"/><line x1="953.5" y1="1867.5" x2="1025.3" y2="1938.5" stroke="#000080" stroke-width="8.5"/><line x1="1025.3" y1="1867.5" x2="953.5" y2="1938.5" stroke="#000080" stroke-width="8.5"/><line x1="1062.6" y1="1873.5" x2="1134.4" y2="1944.5" stroke="#000080" stroke-width="8.5"/><line x1="1134.4" y1="1873.5" x2="1062.6" y2="1944.5" stroke="#000080" stroke-width="8.5"/><line x1="1171.7" y1="1877.5" x2="1243.5" y2="1948.5" stroke="#000080" stroke-width="8.5"/><line x1="1243.5" y1="1877.5" x2="1171.7" y2="1948.5" stroke="#000080" stroke-width="8.5"/><line x1="1280.8" y1="1881.9" x2="1352.6" y2="1952.9" stroke="#000080" stroke-width="8.5"/><line x1="1352.6" y1="1881.9" x2="1280.8" y2="1952.9" stroke="#000080" stroke-width="8.5"/><line x1="1389.9" y1="1886.2" x2="1461.7" y2="1957.2" stroke="#000080" stroke-width="8.5"/><line x1="1461.7" y1="1886.2" x2="1389.9" y2="1957.2" stroke="#000080" stroke-width="8.5"/><line x1="1499" y1="1893.1" x2="1570.8" y2="1964.1" stroke="#000080" stroke-width="8.5"/><line x1="1570.8" y1="1893.1" x2="1499" y2="1964.1" stroke="#000080" stroke-width="8.5"/><line x1="1608.2" y1="1897.5" x2="1680" y2="1968.5" stroke="#000080" stroke-width="8.5"/><line x1="1680" y1="1897.5" x2="1608.2" y2="1968.5" stroke="#000080" stroke-width="8.5"/><line x1="1717.3" y1="1902.5" x2="1789.1" y2="1973.5" stroke="#000080" stroke-width="8.5"/><line x1="1789.1" y1="1902.5" x2="1717.3" y2="1973.5" stroke="#000080" stroke-width="8.5"/><line x1="1826.5" y1="1907.5" x2="1898.3" y2="1978.5" stroke="#000080" stroke-width="8.5"/><line x1="1898.3" y1="1907.5" x2="1826.5" y2="1978.5" stroke="#000080" stroke-width="8.5"/><line x1="1935.6" y1="1912.5" x2="2007.4" y2="1983.5" stroke="#000080" stroke-width="8.5"/><line x1="2007.4" y1="1912.5" x2="1935.6" y2="1983.5" stroke="#000080" stroke-width="8.5"/><polygon points="327.5,1815.8 335.5,1815.8 367.3,1839.6 367.3,1852.6 354.9,1885.6 308.1,1885.6 295.7,1852.6 295.7,1839.6" fill="#000"/><polygon points="336,1828 358.5,1842.6 358.5,1852.1 349.7,1876.1 336,1876.1" fill="#fff"/><polygon points="437.3,1837.6 445.3,1837.6 477.1,1861.4 477.1,1874.4 464.7,1907.4 417.9,1907.4 405.5,1874.4 405.5,1861.4" fill="#000"/><polygon points="445.8,1849.8 468.3,1864.4 468.3,1873.9 459.5,1897.9 445.8,1897.9" fill="#fff"/><polygon points="547,1845.4 555,1845.4 586.8,1869.2 586.8,1882.2 574.4,1915.2 527.6,1915.2 515.2,1882.2 515.2,1869.2" fill="#000"/><polygon points="555.5,1857.6 578,1872.2 578,1881.7 569.2,1905.7 555.5,1905.7" fill="#fff"/><polygon points="656.8,1846.1 664.8,1846.1 696.6,1869.9 696.6,1882.9 684.2,1915.9 637.4,1915.9 625,1882.9 625,1869.9" fill="#000"/><polygon points="665.3,1858.3 687.8,1872.9 687.8,1882.4 679,1906.4 665.3,1906.4" fill="#fff"/><polygon points="766.5,1853.1 774.5,1853.1 806.3,1876.9 806.3,1889.9 793.9,1922.9 747.1,1922.9 734.7,1889.9 734.7,1876.9" fill="#000"/><polygon points="775,1865.3 797.5,1879.9 797.5,1889.4 788.7,1913.4 775,1913.4" fill="#fff"/><polygon points="876.3,1860.8 884.3,1860.8 916.1,1884.6 916.1,1897.6 903.7,1930.6 856.9,1930.6 844.5,1897.6 844.5,1884.6" fill="#000"/><polygon points="884.8,1873 907.3,1887.6 907.3,1897.1 898.5,1921.1 884.8,1921.1" fill="#fff"/><polygon points="985.4,1862.1 993.4,1862.1 1025.2,1885.9 1025.2,1898.9 1012.8,1931.9 966,1931.9 953.6,1898.9 953.6,1885.9" fill="#000"/><polygon points="993.9,1874.3 1016.4,1888.9 1016.4,1898.4 1007.6,1922.4 993.9,1922.4" fill="#fff"/><polygon points="1094.5,1867.1 1102.5,1867.1 1134.3,1890.9 1134.3,1903.9 1121.9,1936.9 1075.1,1936.9 1062.7,1903.9 1062.7,1890.9" fill="#000"/><polygon points="1103,1879.3 1125.5,1893.9 1125.5,1903.4 1116.7,1927.4 1103,1927.4" fill="#fff"/><polygon points="1203.6,1869.4 1211.6,1869.4 1243.4,1893.2 1243.4,1906.2 1231,1939.2 1184.2,1939.2 1171.8,1906.2 1171.8,1893.2" fill="#000"/><polygon points="1212.1,1881.6 1234.6,1896.2 1234.6,1905.7 1225.8,1929.7 1212.1,1929.7" fill="#fff"/><polygon points="1312.7,1872.5 1320.7,1872.5 1352.5,1896.3 1352.5,1909.3 1340.1,1942.3 1293.3,1942.3 1280.9,1909.3 1280.9,1896.3" fill="#000"/><polygon points="1321.2,1884.7 1343.7,1899.3 1343.7,1908.8 1334.9,1932.8 1321.2,1932.8" fill="#fff"/><polygon points="1421.8,1876.1 1429.8,1876.1 1461.6,1899.9 1461.6,1912.9 1449.2,1945.9 1402.4,1945.9 1390,1912.9 1390,1899.9" fill="#000"/><polygon points="1430.3,1888.3 1452.8,1902.9 1452.8,1912.4 1444,1936.4 1430.3,1936.4" fill="#fff"/><polygon points="1530.9,1881.1 1538.9,1881.1 1570.7,1904.9 1570.7,1917.9 1558.3,1950.9 1511.5,1950.9 1499.1,1917.9 1499.1,1904.9" fill="#000"/><polygon points="1539.4,1893.3 1561.9,1907.9 1561.9,1917.4 1553.1,1941.4 1539.4,1941.4" fill="#fff"/><polygon points="1640.1,1884.9 1648.1,1884.9 1679.9,1908.7 1679.9,1921.7 1667.5,1954.7 1620.7,1954.7 1608.3,1921.7 1608.3,1908.7" fill="#000"/><polygon points="1648.6,1897.1 1671.1,1911.7 1671.1,1921.2 1662.3,1945.2 1648.6,1945.2" fill="#fff"/><polygon points="1749.2,1890.1 1757.2,1890.1 1789,1913.9 1789,1926.9 1776.6,1959.9 1729.8,1959.9 1717.4,1926.9 1717.4,1913.9" fill="#000"/><polygon points="1757.7,1902.3 1780.2,1916.9 1780.2,1926.4 1771.4,1950.4 1757.7,1950.4" fill="#fff"/><polygon points="1858.4,1896.4 1866.4,1896.4 1898.2,1920.2 1898.2,1933.2 1885.8,1966.2 1839,1966.2 1826.6,1933.2 1826.6,1920.2" fill="#000"/><polygon points="1866.9,1908.6 1889.4,1923.2 1889.4,1932.7 1880.6,1956.7 1866.9,1956.7" fill="#fff"/><polygon points="1967.5,1906.4 1975.5,1906.4 2007.3,1930.2 2007.3,1943.2 1994.9,1976.2 1948.1,1976.2 1935.7,1943.2 1935.7,1930.2" fill="#000"/><polygon points="1976,1918.6 1998.5,1933.2 1998.5,1942.7 1989.7,1966.7 1976,1966.7" fill="#fff"/><polygon points="329,729.4 334,729.4 343.3,753 367.4,753.2 367.4,762 349.5,774 355.4,800.6 346.9,800.6 331.5,788.4 316.1,800.6 307.6,800.6 313.5,774 295.6,762 295.6,753.2 319.7,753" fill="#000"/><polygon points="331.5,752.2 335.1,762 349.8,762.4 340.8,768.5 342.3,783 331.5,777.4 320.7,783 322.2,768.5 313.2,762.4 327.9,762" fill="#fff"/><polygon points="438.8,828.9 443.8,828.9 453.1,852.5 477.2,852.8 477.2,861.5 459.3,873.5 465.2,900.1 456.7,900.1 441.3,887.9 425.9,900.1 417.4,900.1 423.3,873.5 405.4,861.5 405.4,852.8 429.5,852.5" fill="#000"/><polygon points="441.3,851.8 444.9,861.5 459.6,861.9 450.6,868 452.1,882.5 441.3,876.9 430.5,882.5 432,868 423,861.9 437.7,861.5" fill="#fff"/><polygon points="548.5,917.4 553.5,917.4 562.8,941 586.9,941.2 586.9,950 569,962 574.9,988.6 566.4,988.6 551,976.4 535.6,988.6 527.1,988.6 533,962 515.1,950 515.1,941.2 539.2,941" fill="#000"/><polygon points="551,940.2 554.6,950 569.3,950.4 560.3,956.5 561.8,971 551,965.4 540.2,971 541.7,956.5 532.7,950.4 547.4,950" fill="#fff"/><polygon points="658.3,1003.4 663.3,1003.4 672.6,1027 696.7,1027.2 696.7,1036 678.8,1048 684.7,1074.7 676.2,1074.7 660.8,1062.3 645.4,1074.7 636.9,1074.7 642.8,1048 624.9,1036 624.9,1027.2 649,1027" fill="#000"/><polygon points="660.8,1026.2 664.4,1036 679.1,1036.3 670.1,1042.5 671.6,1057 660.8,1051.3 650,1057 651.5,1042.5 642.5,1036.3 657.2,1036" fill="#fff"/><polygon points="768,1066.3 773,1066.3 782.3,1090 806.4,1090.2 806.4,1099 788.5,1111 794.4,1137.7 785.9,1137.7 770.5,1125.3 755.1,1137.7 746.6,1137.7 752.5,1111 734.6,1099 734.6,1090.2 758.7,1090" fill="#000"/><polygon points="770.5,1089.2 774.1,1099 788.8,1099.3 779.8,1105.5 781.3,1120 770.5,1114.3 759.7,1120 761.2,1105.5 752.2,1099.3 766.9,1099" fill="#fff"/><polygon points="877.8,1131.3 882.8,1131.3 892.1,1155 916.2,1155.2 916.2,1164 898.3,1176 904.2,1202.7 895.7,1202.7 880.3,1190.3 864.9,1202.7 856.4,1202.7 862.3,1176 844.4,1164 844.4,1155.2 868.5,1155" fill="#000"/><polygon points="880.3,1154.2 883.9,1164 898.6,1164.3 889.6,1170.5 891.1,1185 880.3,1179.3 869.5,1185 871,1170.5 862,1164.3 876.7,1164" fill="#fff"/><polygon points="986.9,1176.3 991.9,1176.3 1001.2,1200 1025.3,1200.2 1025.3,1209 1007.4,1221 1013.3,1247.7 1004.8,1247.7 989.4,1235.3 974,1247.7 965.5,1247.7 971.4,1221 953.5,1209 953.5,1200.2 977.6,1200" fill="#000"/><polygon points="989.4,1199.2 993,1209 1007.7,1209.3 998.7,1215.5 1000.2,1230 989.4,1224.3 978.6,1230 980.1,1215.5 971.1,1209.3 985.8,1209" fill="#fff"/><polygon points="1096,1224.3 1101,1224.3 1110.3,1248 1134.4,1248.2 1134.4,1257 1116.5,1269 1122.4,1295.7 1113.9,1295.7 1098.5,1283.3 1083.1,1295.7 1074.6,1295.7 1080.5,1269 1062.6,1257 1062.6,1248.2 1086.7,1248" fill="#000"/><polygon points="1098.5,1247.2 1102.1,1257 1116.8,1257.3 1107.8,1263.5 1109.3,1278 1098.5,1272.3 1087.7,1278 1089.2,1263.5 1080.2,1257.3 1094.9,1257" fill="#fff"/><polygon points="1205.1,1264.3 1210.1,1264.3 1219.4,1288 1243.5,1288.2 1243.5,1297 1225.6,1309 1231.5,1335.7 1223,1335.7 1207.6,1323.3 1192.2,1335.7 1183.7,1335.7 1189.6,1309 1171.7,1297 1171.7,1288.2 1195.8,1288" fill="#000"/><polygon points="1207.6,1287.2 1211.2,1297 1225.9,1297.3 1216.9,1303.5 1218.4,1318 1207.6,1312.3 1196.8,1318 1198.3,1303.5 1189.3,1297.3 1204,1297" fill="#fff"/><polygon points="1314.2,1298.3 1319.2,1298.3 1328.5,1322 1352.6,1322.2 1352.6,1331 1334.7,1343 1340.6,1369.7 1332.1,1369.7 1316.7,1357.3 1301.3,1369.7 1292.8,1369.7 1298.7,1343 1280.8,1331 1280.8,1322.2 1304.9,1322" fill="#000"/><polygon points="1316.7,1321.2 1320.3,1331 1335,1331.3 1326,1337.5 1327.5,1352 1316.7,1346.3 1305.9,1352 1307.4,1337.5 1298.4,1331.3 1313.1,1331" fill="#fff"/><polygon points="1423.3,1333.2 1428.3,1333.2 1437.6,1356.9 1461.7,1357.2 1461.7,1366 1443.8,1377.9 1449.7,1404.6 1441.2,1404.6 1425.8,1392.2 1410.4,1404.6 1401.9,1404.6 1407.8,1377.9 1389.9,1366 1389.9,1357.2 1414,1356.9" fill="#000"/><polygon points="1425.8,1356.2 1429.4,1366 1444.1,1366.2 1435.1,1372.5 1436.6,1387 1425.8,1381.2 1415,1387 1416.5,1372.5 1407.5,1366.2 1422.2,1366" fill="#fff"/><polygon points="1532.4,1363.2 1537.4,1363.2 1546.7,1386.9 1570.8,1387.2 1570.8,1396 1552.9,1407.9 1558.8,1434.6 1550.3,1434.6 1534.9,1422.2 1519.5,1434.6 1511,1434.6 1516.9,1407.9 1499,1396 1499,1387.2 1523.1,1386.9" fill="#000"/><polygon points="1534.9,1386.2 1538.5,1396 1553.2,1396.2 1544.2,1402.5 1545.7,1417 1534.9,1411.2 1524.1,1417 1525.6,1402.5 1516.6,1396.2 1531.3,1396" fill="#fff"/><polygon points="1641.6,1392.8 1646.6,1392.8 1655.9,1416.5 1680,1416.8 1680,1425.5 1662.1,1437.5 1668,1464.2 1659.5,1464.2 1644.1,1451.8 1628.7,1464.2 1620.2,1464.2 1626.1,1437.5 1608.2,1425.5 1608.2,1416.8 1632.3,1416.5" fill="#000"/><polygon points="1644.1,1415.8 1647.7,1425.5 1662.4,1425.8 1653.4,1432 1654.9,1446.5 1644.1,1440.8 1633.3,1446.5 1634.8,1432 1625.8,1425.8 1640.5,1425.5" fill="#fff"/><polygon points="1750.7,1419.6 1755.7,1419.6 1765,1443.2 1789.1,1443.5 1789.1,1452.3 1771.2,1464.2 1777.1,1491 1768.6,1491 1753.2,1478.6 1737.8,1491 1729.3,1491 1735.2,1464.2 1717.3,1452.3 1717.3,1443.5 1741.4,1443.2" fill="#000"/><polygon points="1753.2,1442.5 1756.8,1452.3 1771.5,1452.6 1762.5,1458.8 1764,1473.3 1753.2,1467.6 1742.4,1473.3 1743.9,1458.8 1734.9,1452.6 1749.6,1452.3" fill="#fff"/><polygon points="1859.9,1445.8 1864.9,1445.8 1874.2,1469.5 1898.3,1469.8 1898.3,1478.5 1880.4,1490.5 1886.3,1517.2 1877.8,1517.2 1862.4,1504.8 1847,1517.2 1838.5,1517.2 1844.4,1490.5 1826.5,1478.5 1826.5,1469.8 1850.6,1469.5" fill="#000"/><polygon points="1862.4,1468.8 1866,1478.5 1880.7,1478.8 1871.7,1485 1873.2,1499.5 1862.4,1493.8 1851.6,1499.5 1853.1,1485 1844.1,1478.8 1858.8,1478.5" fill="#fff"/><polygon points="1969,1472.3 1974,1472.3 1983.3,1496 2007.4,1496.2 2007.4,1505 1989.5,1517 1995.4,1543.7 1986.9,1543.7 1971.5,1531.3 1956.1,1543.7 1947.6,1543.7 1953.5,1517 1935.6,1505 1935.6,1496.2 1959.7,1496" fill="#000"/><polygon points="1971.5,1495.2 1975.1,1505 1989.8,1505.3 1980.8,1511.5 1982.3,1526 1971.5,1520.3 1960.7,1526 1962.2,1511.5 1953.2,1505.3 1967.9,1505" fill="#fff"/><rect x="1571.8" y="99.5" width="53.1" height="53.1" fill="#000"/><text x="1670" y="144.9" style="font-family:'Liberation Serif','Times New Roman',serif;font-size:53px">pCBT</text><circle cx="1598.3" cy="191.4" r="30.2" fill="#000"/><circle cx="1598.3" cy="191.4" r="22.5" fill="#f00"/><text x="1670" y="210.9" style="font-family:'Liberation Serif','Times New Roman',serif;font-size:53px">5% GRM-1</text><polygon points="1594.4,221.3 1602.2,221.3 1633.4,272.5 1633.4,283 1563.2,283 1563.2,272.5" fill="#000"/><polygon points="1598.3,231.9 1622.8,275.1 1573.8,275.1" fill="#00ff00"/><text x="1670" y="276.9" style="font-family:'Liberation Serif','Times New Roman',serif;font-size:53px">5% GRM-2</text><polygon points="1602.2,363.3 1594.4,363.3 1563.2,312.1 1563.2,301.6 1633.4,301.6 1633.4,312.1" fill="#000"/><polygon points="1598.3,352.6 1573.8,309.4 1622.8,309.4" fill="#0000ff"/><text x="1670" y="342.9" style="font-family:'Liberation Serif','Times New Roman',serif;font-size:53px">5% GRM-3</text><polygon points="1638.1,385.4 1638.1,393.2 1586.9,424.4 1576.4,424.4 1576.4,354.2 1586.9,354.2" fill="#000"/><polygon points="1627.5,389.3 1584.2,413.8 1584.2,364.8" fill="#ffff00"/><text x="1670" y="408.9" style="font-family:'Liberation Serif','Times New Roman',serif;font-size:53px">5% GRM-4</text><polygon points="1594.7,422.9 1601.9,422.9 1630.5,444.3 1630.5,456 1619.4,485.7 1577.2,485.7 1566.1,456 1566.1,444.3" fill="#000"/><polygon points="1598.3,431.3 1622.6,447 1622.6,455.6 1614.7,477.2 1581.9,477.2 1574,455.6 1574,447" fill="#800080"/><text x="1670" y="474.9" style="font-family:'Liberation Serif','Times New Roman',serif;font-size:53px">5% GRM-4T</text><polygon points="1596,488.3 1600.5,488.3 1608.9,509.6 1630.6,509.8 1630.6,517.7 1614.5,528.5 1619.8,552.5 1612.2,552.5 1598.3,541.4 1584.4,552.5 1576.8,552.5 1582.1,528.5 1566,517.7 1566,509.8 1587.7,509.6" fill="#000"/><polygon points="1598.3,508.9 1601.5,517.7 1614.8,518 1606.7,523.6 1608,536.6 1598.3,531.5 1588.6,536.6 1589.9,523.6 1581.8,518 1595.1,517.7" fill="#000080"/><text x="1670" y="540.9" style="font-family:'Liberation Serif','Times New Roman',serif;font-size:53px">5% GRM-5</text><circle cx="1598.3" cy="588.5" r="30.2" fill="#8a0000"/><circle cx="1588.7" cy="580.3" r="15.8" fill="#dfa3a3"/><circle cx="1588.7" cy="580.3" r="9.2" fill="#b65252"/><circle cx="1588.7" cy="580.3" r="4.1" fill="#9a0000"/><text x="1670" y="606.9" style="font-family:'Liberation Serif','Times New Roman',serif;font-size:53px">5% GRM-5T</text><polygon points="1593.2,623.9 1603.4,623.9 1627.8,640.4 1627.8,672 1603.4,688.5 1593.2,688.5 1568.8,672 1568.8,640.4" fill="#000"/><polygon points="1598.3,632 1619.9,642.9 1619.9,669.5 1598.3,680.3 1576.7,669.5 1576.7,642.9" fill="#808000"/><text x="1670" y="672.9" style="font-family:'Liberation Serif','Times New Roman',serif;font-size:53px">5% GRM-6</text><line x1="1566" y1="689.2" x2="1630.6" y2="753.2" stroke="#000080" stroke-width="7.7"/><line x1="1630.6" y1="689.2" x2="1566" y2="753.2" stroke="#000080" stroke-width="7.7"/><text x="1670" y="738.9" style="font-family:'Liberation Serif','Times New Roman',serif;font-size:53px">5% GRM-7</text><polygon points="1594.4,748.8 1602.2,748.8 1636,782.6 1636,790.4 1602.2,824.2 1594.4,824.2 1560.6,790.4 1560.6,782.6" fill="#000"/><polygon points="1595.7,759.5 1600.9,759.5 1625.3,783.9 1625.3,789.1 1600.9,813.5 1595.7,813.5 1571.3,789.1 1571.3,783.9" fill="#00ffff"/><text x="1670" y="804.9" style="font-family:'Liberation Serif','Times New Roman',serif;font-size:53px">5% GRM-8</text><polygon points="1557.9,857.4 1557.9,849.6 1609.1,818.4 1619.6,818.4 1619.6,888.6 1609.1,888.6" fill="#000"/><polygon points="1568.5,853.5 1611.8,829 1611.8,878" fill="#ff00ff"/><text x="1670" y="870.9" style="font-family:'Liberation Serif','Times New Roman',serif;font-size:53px">5% GRM-9</text><polygon points="1594.7,885.9 1601.9,885.9 1630.5,907.3 1630.5,919 1619.4,948.7 1577.2,948.7 1566.1,919 1566.1,907.3" fill="#000"/><polygon points="1602.3,896.9 1622.6,910 1622.6,918.6 1614.7,940.2 1602.3,940.2" fill="#fff"/><text x="1670" y="936.9" style="font-family:'Liberation Serif','Times New Roman',serif;font-size:53px">5% GRM-10</text><polygon points="1596,949.9 1600.5,949.9 1608.9,971.2 1630.6,971.4 1630.6,979.3 1614.5,990.1 1619.8,1014.1 1612.2,1014.1 1598.3,1003 1584.4,1014.1 1576.8,1014.1 1582.1,990.1 1566,979.3 1566,971.4 1587.7,971.2" fill="#000"/><polygon points="1598.3,970.5 1601.5,979.3 1614.8,979.6 1606.7,985.2 1608,998.2 1598.3,993.1 1588.6,998.2 1589.9,985.2 1581.8,979.6 1595.1,979.3" fill="#fff"/><text x="1670" y="1002.9" style="font-family:'Liberation Serif','Times New Roman',serif;font-size:53px">5% GRM-11</text></svg>
</body></html>
